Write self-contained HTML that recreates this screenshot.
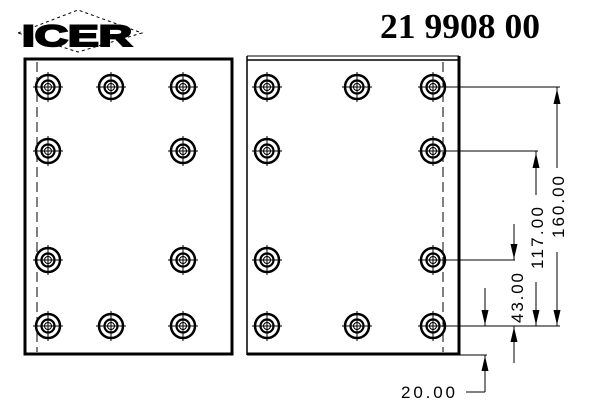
<!DOCTYPE html>
<html><head><style>html,body{margin:0;padding:0;background:#fff;width:600px;height:400px;overflow:hidden}</style></head>
<body>
<svg width="600" height="400" viewBox="0 0 600 400" xmlns="http://www.w3.org/2000/svg">
<defs>
<g id="h">
<circle r="12" fill="none" stroke="#000" stroke-width="2.5"/>
<circle r="6.5" fill="none" stroke="#000" stroke-width="2.2"/>
<circle r="3.5" fill="none" stroke="#000" stroke-width="1"/>
<line x1="-15" y1="0" x2="15" y2="0" stroke="#000" stroke-width="1"/>
<line x1="0" y1="-15" x2="0" y2="15" stroke="#000" stroke-width="1"/>
</g>
<polygon id="up" points="0,0 -3.5,15 3.5,15" fill="#000"/>
<polygon id="dn" points="0,0 -3.5,-15 3.5,-15" fill="#000"/>
</defs>
<polygon points="18,33 78,10 142,33 78,52" fill="none" stroke="#000" stroke-width="1" stroke-dasharray="3,3"/>
<text x="22" y="46" font-family="Liberation Sans, sans-serif" font-weight="bold" font-size="30" textLength="110" lengthAdjust="spacingAndGlyphs" stroke="#000" stroke-width="2">ICER</text>
<text x="380" y="38" font-family="Liberation Serif, serif" font-weight="bold" font-size="35" textLength="160" lengthAdjust="spacingAndGlyphs">21 9908 00</text>
<rect x="25" y="59" width="207" height="295" fill="none" stroke="#000" stroke-width="3"/>
<line x1="37" y1="62" x2="37" y2="352" stroke="#000" stroke-width="1" stroke-dasharray="10,5"/>
<line x1="247" y1="56" x2="459" y2="56" stroke="#000" stroke-width="1"/>
<line x1="247" y1="60" x2="459" y2="60" stroke="#000" stroke-width="1.5"/>
<line x1="247" y1="56" x2="247" y2="355" stroke="#000" stroke-width="1.5"/>
<line x1="459" y1="56" x2="459" y2="355" stroke="#000" stroke-width="3"/>
<line x1="247" y1="354" x2="460" y2="354" stroke="#000" stroke-width="3"/>
<line x1="443" y1="62" x2="443" y2="352" stroke="#000" stroke-width="1" stroke-dasharray="10,5"/>
<use href="#h" x="48" y="87"/><use href="#h" x="111" y="87"/><use href="#h" x="183" y="87"/>
<use href="#h" x="48" y="151"/><use href="#h" x="183" y="151"/>
<use href="#h" x="48" y="260"/><use href="#h" x="183" y="260"/>
<use href="#h" x="48" y="326"/><use href="#h" x="111" y="326"/><use href="#h" x="183" y="326"/>
<use href="#h" x="267" y="87"/><use href="#h" x="357" y="87"/><use href="#h" x="433" y="87"/>
<use href="#h" x="267" y="151"/><use href="#h" x="433" y="151"/>
<use href="#h" x="267" y="260"/><use href="#h" x="433" y="260"/>
<use href="#h" x="267" y="326"/><use href="#h" x="357" y="326"/><use href="#h" x="433" y="326"/>
<g stroke="#000" stroke-width="1" fill="none">
<line x1="445" y1="87" x2="560" y2="87"/>
<line x1="445" y1="151" x2="538" y2="151"/>
<line x1="445" y1="260" x2="515" y2="260"/>
<line x1="445" y1="326" x2="560" y2="326"/>
<line x1="460" y1="355" x2="487" y2="355"/>
<line x1="557" y1="87" x2="557" y2="168"/>
<line x1="557" y1="252" x2="557" y2="326"/>
<line x1="536" y1="151" x2="536" y2="195"/>
<line x1="536" y1="282" x2="536" y2="326"/>
<line x1="514" y1="224" x2="514" y2="260"/>
<line x1="514" y1="363" x2="514" y2="326"/>
<line x1="485" y1="288" x2="485" y2="326"/>
<line x1="485" y1="392" x2="485" y2="355"/>
<line x1="466" y1="392" x2="485" y2="392"/>
</g>
<use href="#up" x="557" y="89"/>
<use href="#dn" x="557" y="325"/>
<use href="#up" x="536" y="153"/>
<use href="#dn" x="536" y="325"/>
<use href="#dn" x="514" y="259"/>
<use href="#up" x="514" y="327"/>
<use href="#dn" x="485" y="325"/>
<use href="#up" x="485" y="356"/>
<g font-family="Liberation Sans, sans-serif" font-size="17" fill="#000">
<text transform="translate(564,207) rotate(-90)" text-anchor="middle" textLength="62" lengthAdjust="spacing">160.00</text>
<text transform="translate(543,238) rotate(-90)" text-anchor="middle" textLength="62" lengthAdjust="spacing">117.00</text>
<text transform="translate(523,298) rotate(-90)" text-anchor="middle" textLength="50" lengthAdjust="spacing">43.00</text>
<text x="401" y="398" textLength="54" lengthAdjust="spacing">20.00</text>
</g>
</svg>
</body></html>
